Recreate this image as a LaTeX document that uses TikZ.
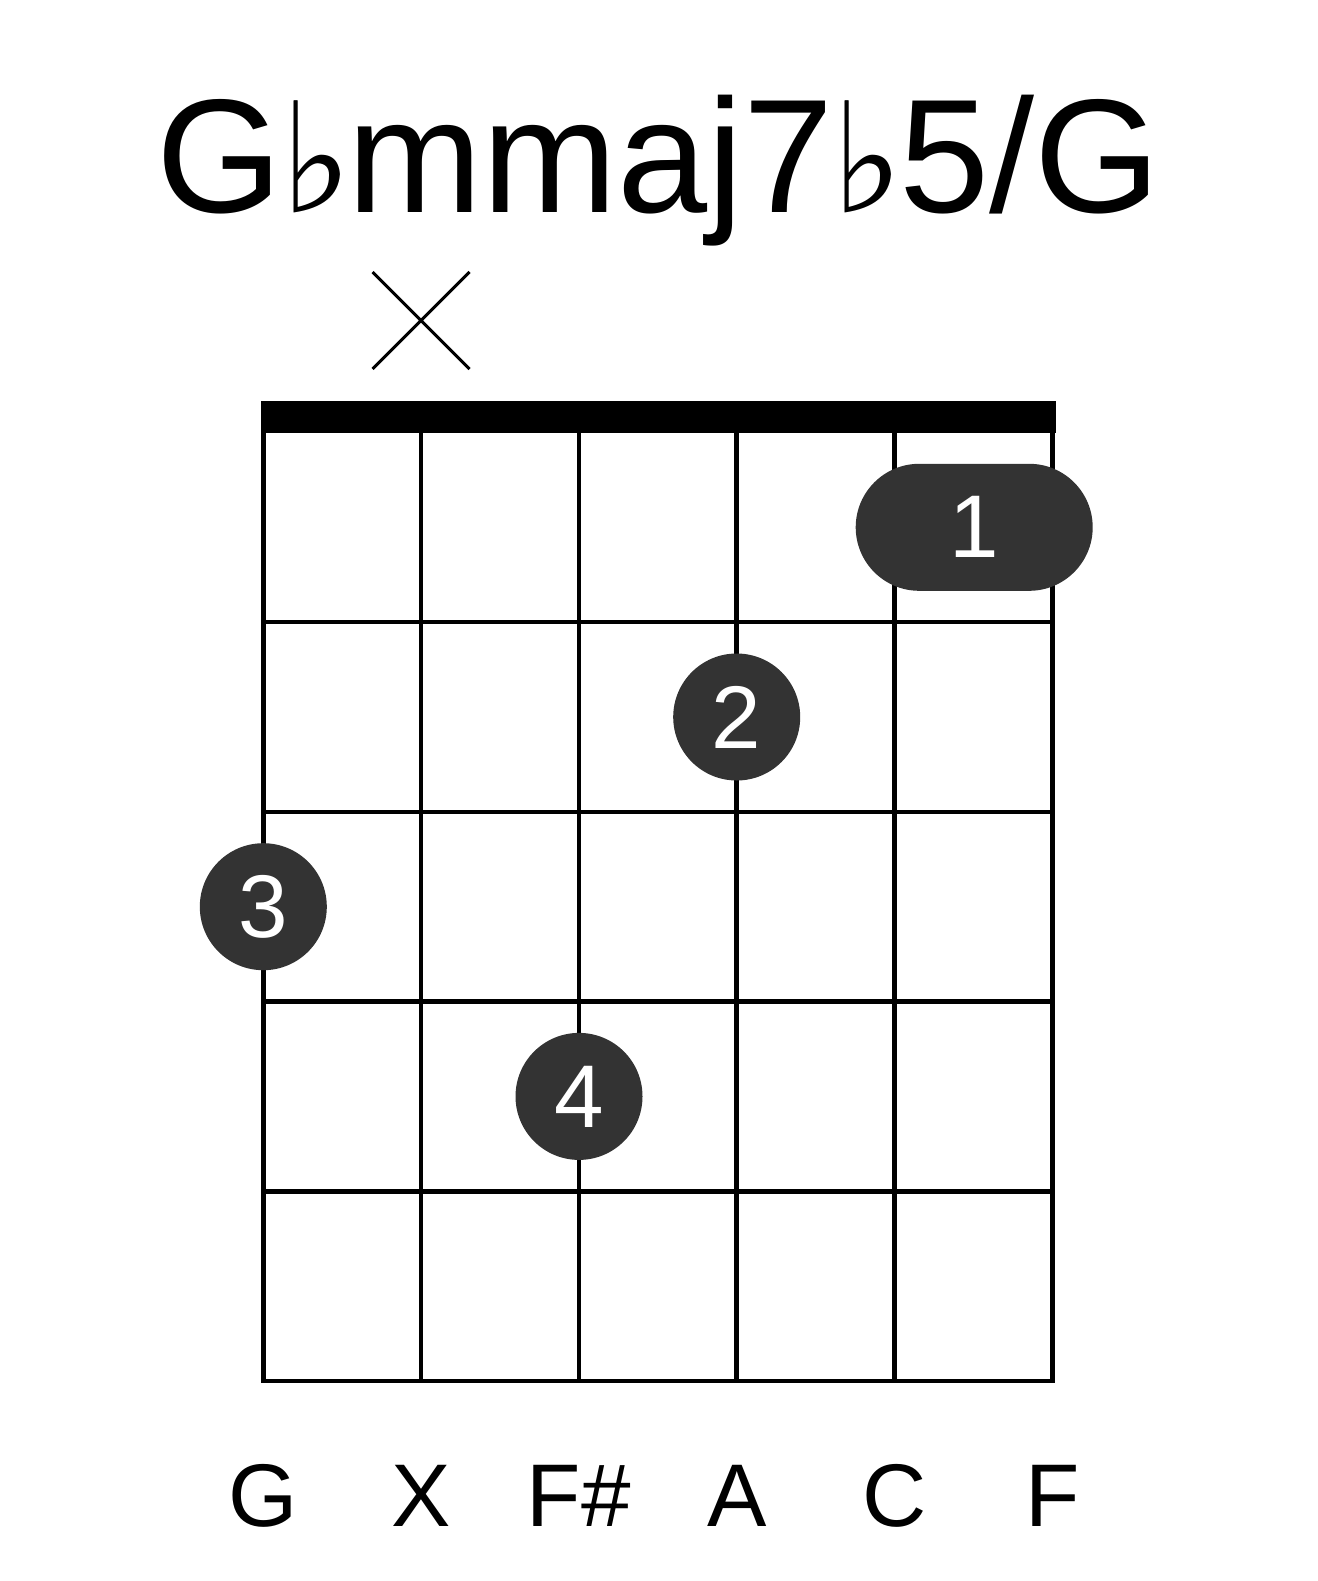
\documentclass[tikz,border=0pt]{standalone}
\usepackage{fontspec}
\setmainfont{Liberation Sans}
\newfontfamily\symfont{DejaVu Sans}
\definecolor{dotGray}{RGB}{51, 51, 51}
\usetikzlibrary{positioning, shapes.misc}
\newcommand{\flatsign}{\kern-2pt{\symfont\fontsize{153}{153}\selectfont ♭}\kern-5pt}

\begin{document}
\begin{tikzpicture}[
    x=1pt, y=-1pt,
    gridline/.style={line width=4.5pt, black, line cap=rect},
    nutbar/.style={fill=black},
    finger/.style={circle, fill=dotGray, minimum size=127pt, inner sep=0pt,
                   text=white, font=\fontsize{89}{89}\selectfont},
    barre/.style={rectangle, fill=dotGray, rounded corners=63.5pt,
                  minimum width=237pt, minimum height=127pt, inner sep=0pt,
                  text=white, font=\fontsize{89}{89}\selectfont},
    mutemark/.style={cross out, draw=black, line width=3pt,
                     minimum size=94pt, inner sep=0pt},
    strlabel/.style={anchor=base, font=\fontsize{89}{89}\selectfont},
    chordname/.style={anchor=base, font=\fontsize{162}{162}\selectfont},
  ]
    \useasboundingbox (0,0) rectangle (1317,1581);

    % Title
    \node[chordname] (TITLE) at (658.5,212) {G\flatsign mmaj7\flatsign 5/G};

    % Nut
    \node[nutbar, inner sep=0pt, minimum width=795pt, minimum height=32pt,
          anchor=north west] (NUT) at (260.5,400.5) {};

    % Strings and frets
    \foreach \i in {0,...,5} {
      \draw[gridline] (263.3+157.8*\i,432.5) -- (263.3+157.8*\i,1381);
    }
    \foreach \j in {1,...,5} {
      \draw[gridline] (263.3,432.5+189.7*\j) -- (1052.3,432.5+189.7*\j);
    }

    % Muted string
    \node[mutemark] (M2) at (421.1,320.5) {};

    % Fingers
    \node[barre] (F1) at (974.2,527.3) {1};
    \node[finger] (F2) at (736.7,717) {2};
    \node[finger] (F3) at (263.3,906.7) {3};
    \node[finger] (F4) at (579.0,1096.4) {4};

    % String notes
    \node[strlabel] (N1) at (263.3,1526) {G};
    \node[strlabel] (N2) at (421.1,1526) {X};
    \node[strlabel] (N3) at (578.9,1526) {F\#};
    \node[strlabel] (N4) at (736.7,1526) {A};
    \node[strlabel] (N5) at (894.5,1526) {C};
    \node[strlabel] (N6) at (1052.3,1526) {F};
  \end{tikzpicture}
\end{document}
